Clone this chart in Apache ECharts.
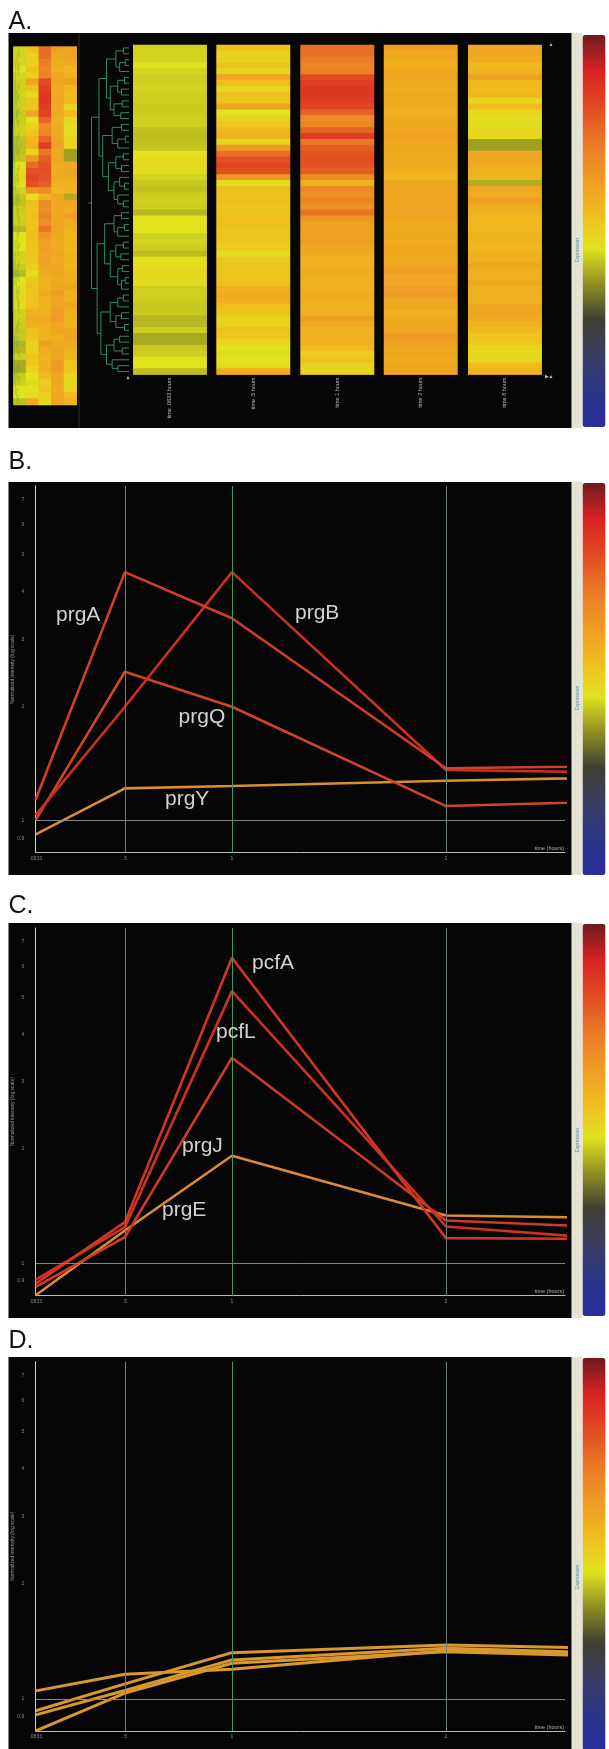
<!DOCTYPE html>
<html><head><meta charset="utf-8">
<script src="https://cdn.jsdelivr.net/npm/echarts@6/dist/echarts.min.js"></script>
<style>html,body{margin:0;padding:0;background:#fff}#c{width:609px;height:1749px}</style>
</head><body><div id="c"></div><script>
// ---------------- DATA ----------------
const heatTimes = ['time .0833 hours', 'time .5 hours', 'time 1 hours', 'time 2 hours', 'time 8 hours'];
// normalized intensity per gene row (top to bottom), one array per time point
const heat_t0083 = [0.94,0.94,0.95,1.02,0.95,0.93,0.93,0.94,0.93,0.93,
  0.91,0.92,0.93,0.93,0.88,0.87,0.88,0.9,1.02,1.06,
  1.08,1.05,0.94,0.9,0.88,0.92,0.93,0.92,0.85,1.0,
  1.02,1.0,0.93,0.94,0.92,0.86,1.02,1.05,1.08,1.08,
  1.06,0.93,0.93,0.92,0.9,0.91,0.84,0.85,0.93,0.8,
  0.8,0.91,0.93,1.0,1.0,0.87];
const heat_t05 = [1.3,1.15,1.15,1.3,1.15,1.7,1.35,1.1,1.3,1.3,
  1.7,1.0,1.15,1.25,1.45,1.5,1.12,1.9,2.8,3.5,
  3.8,3.5,2.0,1.05,1.35,1.3,1.35,1.3,1.3,1.35,
  1.35,1.3,1.3,1.25,1.2,1.05,1.25,1.3,1.3,1.3,
  1.35,1.55,1.6,1.55,1.35,1.3,1.15,1.15,1.3,1.25,
  1.1,1.0,0.98,1.0,1.05,1.6];
const heat_t1 = [2.8,2.8,2.5,2.3,2.4,3.6,4.0,4.2,4.2,4.0,
  3.8,3.0,2.2,2.3,3.0,4.0,2.6,3.2,3.4,3.5,
  3.4,3.2,2.2,1.5,2.2,2.1,2.3,2.1,2.7,2.0,
  1.8,1.8,1.75,1.8,1.7,1.6,1.55,1.5,1.6,1.55,
  1.5,1.55,1.6,1.55,1.5,1.55,1.8,1.6,1.5,1.55,
  1.55,1.4,1.2,1.3,1.15,1.1];
const heat_t2 = [1.8,1.65,1.6,1.55,1.65,1.7,1.6,1.6,1.65,1.6,
  1.6,1.55,1.6,1.65,1.7,1.8,1.65,1.65,1.6,1.6,
  1.6,1.55,1.45,1.65,1.7,1.65,1.7,1.7,1.75,1.65,
  1.6,1.6,1.65,1.6,1.65,1.65,1.6,1.7,1.85,1.7,
  1.7,1.85,1.9,1.7,1.65,1.55,1.6,1.65,1.7,1.9,
  1.85,1.65,1.65,1.6,1.65,1.7];
const heat_t8 = [1.7,1.7,1.6,1.45,1.5,1.75,1.45,1.4,1.45,1.1,
  1.4,1.1,1.05,1.05,1.1,1.1,0.78,0.78,1.7,1.7,
  1.6,1.5,1.5,0.82,1.7,1.6,1.8,1.6,1.5,1.45,
  1.45,1.45,1.5,1.5,1.45,1.55,1.55,1.65,1.55,1.5,
  1.65,1.55,1.5,1.5,1.65,1.7,1.6,1.5,1.45,1.3,
  1.25,1.12,1.08,1.12,1.4,1.5];
// hierarchical clustering: [mergeHeight, left, right]; leaves are row indices
const dendrogram = [1.0,
  [0.8,
    [0.6, [0.35,[0.15,0,1],[0.25,[0.1,2,3],4]], [0.5,[0.3,[0.12,5,6],[0.2,7,8]],[0.4,[0.18,9,10],[0.22,11,12]]]],
    [0.7, [0.45,[0.2,13,14],[0.3,[0.1,15,16],17]], [0.55,[0.35,[0.15,18,19],[0.2,20,21]],[0.4,[0.25,22,[0.12,23,24]],[0.3,25,[0.15,26,27]]]]]],
  [0.85,
    [0.65,[0.4,[0.2,28,29],[0.3,[0.12,30,31],32]],[0.5,[0.35,[0.15,33,34],[0.22,35,36]],[0.3,[0.18,37,38],[0.2,[0.1,39,40],41]]]],
    [0.75,[0.5,[0.3,[0.15,42,43],44],[0.35,[0.2,45,46],[0.12,47,48]]],[0.6,[0.4,[0.25,49,50],[0.18,51,52]],[0.45,53,[0.3,54,55]]]]]];

const times = [0.0833, 0.5, 1, 2, 8];           // hours
const xTickValues = [0.0833, 0.5, 1, 2];
const xTickLabels = ['.0833', '.5', '1', '2'];
const yTickValues = [0.9, 1, 2, 3, 4, 5, 6, 7];
const yTickLabels = ['0.9', '1', '2', '3', '4', '5', '6', '7'];
// panel B
const prgA = [1.138, 4.51, 3.41, 1.374, 1.525];
const prgB = [1.035, 1.995, 4.51, 1.36, 1.219];
const prgQ = [1.004, 2.467, 1.995, 1.093, 1.357];
const prgY = [0.921, 1.217, 1.234, 1.274, 1.49];
// panel C
const pcfA = [0.886, 1.285, 6.35, 1.167, 1.121];
const pcfL = [0.908, 1.247, 5.19, 1.252, 0.698];
const prgJ = [0.869, 1.174, 3.47, 1.298, 0.938];
const prgE = [0.826, 1.222, 1.92, 1.338, 1.199];
// panel D (unlabelled genes)
const geneD1 = [1.049, 1.159, 1.195, 1.336, 1.174];
const geneD2 = [0.931, 1.094, 1.32, 1.382, 1.188];
const geneD3 = [0.908, 1.051, 1.264, 1.355, 1.092];
const geneD4 = [0.825, 1.035, 1.239, 1.328, 1.07];

// ---------------- STYLE ----------------
const FONT = '"Liberation Sans", Arial, sans-serif';
const X_MIN = 0.0833, X_MAX = 2.556, Y_MIN = 0.824, Y_MAX = 7.6;
const VM_MIN = -0.7, VM_MAX = 0.84; // log10 expression
const colorStops = ['#2a2e9e','#2a3488','#3a3c62','#3e3e32','#8e8e22','#e2e21e','#f0bc1e','#ef9a24','#ea7826','#e24a22','#d82222','#6e1a1e'];
const colBg = ['#d0d020', '#eec01e', '#ec9e24', '#efaa22', '#efb421'];
const DGREEN = '#2f8c5c';

const ROWS = heat_t0083.length;
const rowIds = Array.from({length: ROWS}, (_, i) => 'r' + i);
const heatCols = [heat_t0083, heat_t05, heat_t1, heat_t2, heat_t8];

const grids = [], xAxes = [], yAxes = [], series = [];
function addGrid(g, xa, ya) {
  grids.push(g); const k = grids.length - 1;
  xa.gridIndex = k; ya.gridIndex = k; xAxes.push(xa); yAxes.push(ya); return k;
}
const hidden = {show: false};

// dendrogram segments
const segs = [];
function walk(n) {
  if (typeof n === 'number') return {y: n, h: 0};
  const a = walk(n[1]), b = walk(n[2]);
  segs.push([[a.h, a.y], [n[0], a.y], [n[0], b.y], [b.h, b.y]]);
  return {y: (a.y + b.y) / 2, h: n[0]};
}
const rootNode = walk(dendrogram);
const DSTUB = 1.08;
segs.push([[rootNode.h, rootNode.y], [DSTUB, rootNode.y]]);

// 0: overview heatmap
let k = addGrid({left: 13.5, top: 46.7, width: 63.2, height: 358.3, show: true, backgroundColor: '#e8b020', borderWidth: 0},
  {type: 'category', data: heatTimes, show: false},
  {type: 'category', data: rowIds, inverse: true, show: false});
const ovData = [];
heatCols.forEach((col, c) => col.forEach((v, r) => ovData.push([c, r, Math.log10(v)])));
series.push({type: 'heatmap', xAxisIndex: k, yAxisIndex: k, data: ovData, silent: true});

// 1: overview dendrogram
k = addGrid({left: 12, top: 46.7, width: 8, height: 358.3},
  {type: 'value', min: 0, max: DSTUB, inverse: true, show: false},
  {type: 'value', min: -0.5, max: ROWS - 0.5, inverse: true, show: false});
series.push({type: 'lines', coordinateSystem: 'cartesian2d', xAxisIndex: k, yAxisIndex: k, polyline: true, silent: true, z: 5,
  data: segs.map(c => ({coords: c})), lineStyle: {color: '#3aa060', width: 0.5, opacity: 0.55}});

// 2: main dendrogram
k = addGrid({left: 88.5, top: 45, width: 40.5, height: 329.5},
  {type: 'value', min: 0, max: DSTUB, inverse: true, show: false},
  {type: 'value', min: -0.5, max: ROWS - 0.5, inverse: true, show: false});
series.push({type: 'lines', coordinateSystem: 'cartesian2d', xAxisIndex: k, yAxisIndex: k, polyline: true, silent: true,
  data: segs.map(c => ({coords: c})), lineStyle: {color: DGREEN, width: 1, opacity: 1}});

// 3-7: main heatmap columns
const colLefts = [133.3, 216.7, 300.7, 384, 468.3];
heatCols.forEach((col, c) => {
  const g = addGrid({left: colLefts[c], top: 45, width: 73.3, height: 329.5, show: true, backgroundColor: colBg[c], borderWidth: 0},
    {type: 'category', data: [heatTimes[c]], axisLine: hidden, axisTick: hidden,
     axisLabel: {rotate: 90, fontSize: 5.5, color: '#b8b8b8', margin: 3, fontFamily: FONT}},
    {type: 'category', data: rowIds, inverse: true, show: false});
  series.push({type: 'heatmap', xAxisIndex: g, yAxisIndex: g, silent: true,
    data: col.map((v, r) => [0, r, Math.log10(v)])});
});

// line panels
function linePanel(top, height, genes) {
  const g = addGrid({left: 35.7, top: top, width: 529.3, height: height},
    {type: 'value', min: X_MIN, max: X_MAX, axisLine: {show: true, lineStyle: {color: '#b9b9b9', width: 1}},
     axisTick: hidden, axisLabel: hidden, splitLine: hidden,
     name: 'time (hours)', nameLocation: 'end', nameGap: 0,
     nameTextStyle: {fontSize: 5.5, color: '#b0b0b0', align: 'right', verticalAlign: 'bottom', padding: [0, 1, 1, 0], fontFamily: FONT}},
    {type: 'log', logBase: 10, min: Y_MIN, max: Y_MAX, axisLine: {show: true, lineStyle: {color: '#cfcfcf', width: 1}},
     axisTick: hidden, axisLabel: hidden, splitLine: hidden,
     name: 'Normalized intensity (log scale)', nameLocation: 'middle', nameGap: 21, nameRotate: 90,
     nameTextStyle: {fontSize: 5, color: '#9a9a9a', fontFamily: FONT}});
  // y tick labels + reference lines
  series.push({type: 'scatter', xAxisIndex: g, yAxisIndex: g, symbolSize: 1, silent: true, z: 1,
    itemStyle: {color: 'rgba(0,0,0,0)'},
    data: yTickValues.map((v, i) => ({value: [xTickValues[0], v], label: {formatter: yTickLabels[i]}})),
    label: {show: true, position: 'left', distance: 11, fontSize: 5, color: '#a8a8a8', fontFamily: FONT},
    markLine: {silent: true, symbol: ['none', 'none'], label: {show: false}, animation: false,
      lineStyle: {type: 'solid', width: 1},
      data: [{xAxis: 0.5, lineStyle: {color: '#6b7d79', type: 'solid', width: 1}},
             {xAxis: 1, lineStyle: {color: '#3f9a62', type: 'solid', width: 1}},
             {xAxis: 2, lineStyle: {color: '#6b7d79', type: 'solid', width: 1}},
             {yAxis: 1, lineStyle: {color: '#7b8886', type: 'solid', width: 1}}]}});
  // x tick labels
  series.push({type: 'scatter', xAxisIndex: g, yAxisIndex: g, symbolSize: 1, silent: true, z: 1,
    itemStyle: {color: 'rgba(0,0,0,0)'},
    data: xTickValues.map((t, i) => ({value: [t, Y_MIN], label: {formatter: xTickLabels[i]}})),
    label: {show: true, position: 'bottom', distance: 3, fontSize: 5, color: '#a8a8a8', fontFamily: FONT}});
  genes.forEach(gn => series.push({type: 'line', xAxisIndex: g, yAxisIndex: g, name: gn.name,
    data: times.map((t, i) => [t, gn.values[i]]), showSymbol: false, symbol: 'none', clip: true, z: 3,
    lineStyle: {color: gn.color, width: gn.width || 2.6}, itemStyle: {color: gn.color}, silent: true}));
}
linePanel(486, 366.7, [
  {name: 'prgY', values: prgY, color: '#d98e30'},
  {name: 'prgQ', values: prgQ, color: '#cf4526'},
  {name: 'prgB', values: prgB, color: '#cc3020'},
  {name: 'prgA', values: prgA, color: '#d63c28'}]);
linePanel(928, 367.7, [
  {name: 'prgE', values: prgE, color: '#dc8a36'},
  {name: 'prgJ', values: prgJ, color: '#cd3a25'},
  {name: 'pcfL', values: pcfL, color: '#cc3124'},
  {name: 'pcfA', values: pcfA, color: '#d23524'}]);
linePanel(1361.7, 369.3, [
  {name: 'D1', values: geneD1, color: '#d9972e', width: 3},
  {name: 'D2', values: geneD2, color: '#d9972e', width: 3},
  {name: 'D3', values: geneD3, color: '#d9972e', width: 3},
  {name: 'D4', values: geneD4, color: '#d9972e', width: 3}]);

// ---------------- DECORATION ----------------
const boxes = [[33, 395], [482, 393], [923, 395], [1357, 400]];
const gfx = [];
boxes.forEach(([y, h]) => {
  gfx.push({type: 'rect', z: -10, shape: {x: 8.5, y: y, width: 563.2, height: h}, style: {fill: '#060606'}});
  gfx.push({type: 'rect', z: -10, shape: {x: 571.7, y: y, width: 10.8, height: h}, style: {fill: '#e7e3d3'}});
  gfx.push({type: 'text', z: 50, x: 578, y: y + h * 0.55, rotation: Math.PI / 2,
    style: {text: 'Expression', fill: '#4a8ea8', font: '5px ' + FONT, align: 'center', textAlign: 'center', verticalAlign: 'middle', textVerticalAlign: 'middle'}});
});
gfx.push({type: 'line', z: -5, shape: {x1: 79, y1: 33, x2: 79, y2: 428}, style: {stroke: '#2c2c2c', lineWidth: 1}});
const txt = (s, x, y, size, fill, align) => ({type: 'text', z: 60,
  style: {text: s, x: x, y: y, fill: fill, font: size + 'px ' + FONT, align: align || 'left', textAlign: align || 'left', verticalAlign: 'middle', textVerticalAlign: 'middle'}});
gfx.push(txt('A.', 8.5, 21.7, 25, '#111'));
gfx.push(txt('B.', 8.5, 462.5, 25, '#111'));
gfx.push(txt('C.', 8.5, 906, 25, '#111'));
gfx.push(txt('D.', 8.5, 1341.5, 25, '#111'));
gfx.push(txt('prgA', 56, 615, 21, '#d2d2d2'));
gfx.push(txt('prgB', 295, 613, 21, '#d2d2d2'));
gfx.push(txt('prgQ', 178.6, 717.5, 21, '#d2d2d2'));
gfx.push(txt('prgY', 165, 799.5, 21, '#d2d2d2'));
gfx.push(txt('pcfA', 252, 963, 21, '#d2d2d2'));
gfx.push(txt('pcfL', 216, 1032.5, 21, '#d2d2d2'));
gfx.push(txt('prgJ', 182, 1146.5, 21, '#d2d2d2'));
gfx.push(txt('prgE', 162, 1210.5, 21, '#d2d2d2'));
gfx.push(txt('\u25B2', 128, 378, 5, '#bbbbbb', 'center'));
gfx.push(txt('\u25B2', 551, 45, 5, '#bbbbbb', 'center'));
gfx.push(txt('\u25B6\u25B2', 549, 377, 5, '#bbbbbb', 'center'));

const vmBase = {type: 'continuous', min: VM_MIN, max: VM_MAX, orient: 'vertical', itemWidth: 23, itemHeight: 392,
  calculable: false, padding: 0, left: 582.5, inRange: {color: colorStops}, textStyle: {color: 'rgba(0,0,0,0)', fontSize: 1}};

const chart = echarts.init(document.getElementById('c'), null, {renderer: 'canvas'});
chart.setOption({
  backgroundColor: '#ffffff',
  animation: false,
  grid: grids, xAxis: xAxes, yAxis: yAxes, series: series,
  visualMap: [
    Object.assign({}, vmBase, {top: 35, seriesIndex: [0, 3, 4, 5, 6, 7]}),
    Object.assign({}, vmBase, {top: 483, seriesIndex: [0]}),
    Object.assign({}, vmBase, {top: 924, seriesIndex: [0]}),
    Object.assign({}, vmBase, {top: 1358, seriesIndex: [0]})],
  graphic: {elements: gfx}
});
</script></body></html>
